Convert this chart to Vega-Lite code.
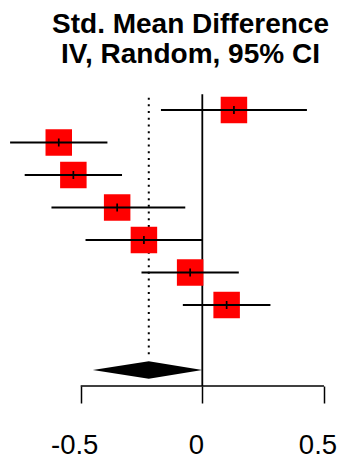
{
  "$schema": "https://vega.github.io/schema/vega-lite/v6.json",
  "width": 337,
  "height": 306,
  "autosize": "none",
  "padding": {"left": 0, "right": 0, "top": 80, "bottom": 69},
  "background": "white",
  "config": {"view": {"stroke": null}, "font": "Liberation Sans"},
  "title": {
    "text": ["Std. Mean Difference", "IV, Random, 95% CI"],
    "fontSize": 28,
    "fontWeight": "bold",
    "font": "Liberation Sans",
    "color": "black",
    "lineHeight": 30,
    "anchor": "middle",
    "dx": 22,
    "offset": 11
  },
  "datasets": {
    "studies": [
      {"row": 1, "est": 0.13, "lo": -0.17, "hi": 0.43},
      {"row": 2, "est": -0.59, "lo": -0.79, "hi": -0.39},
      {"row": 3, "est": -0.53, "lo": -0.73, "hi": -0.33},
      {"row": 4, "est": -0.35, "lo": -0.62, "hi": -0.07},
      {"row": 5, "est": -0.24, "lo": -0.48, "hi": 0.0},
      {"row": 6, "est": -0.05, "lo": -0.25, "hi": 0.15},
      {"row": 7, "est": 0.1, "lo": -0.08, "hi": 0.28}
    ],
    "pooled": [{"row": 9, "est": -0.22, "lo": -0.45, "hi": 0.0}]
  },
  "layer": [
    {
      "data": {"name": "pooled"},
      "mark": {"type": "rule", "color": "black", "strokeWidth": 1.8},
      "encoding": {
        "x": {
          "datum": 0,
          "type": "quantitative",
          "scale": {"domain": [-0.8315, 0.5536], "nice": false, "zero": false},
          "axis": {
            "title": null,
            "values": [-0.5, 0, 0.5],
            "domain": false,
            "grid": false,
            "ticks": true,
            "tickSize": 17,
            "tickWidth": 1.5,
            "tickColor": "black",
            "labelFont": "Liberation Sans",
            "labelFontSize": 27.5,
            "labelColor": "black",
            "labelPadding": 28,
            "labelOffset": -6.5,
            "labelFlush": false,
            "labelOverlap": false,
            "labelBound": false,
            "labelExpr": "datum.value < 0 ? '-' + format(-datum.value, '.1~f') : format(datum.value, '.1~f')"
          }
        },
        "y": {
          "datum": 0.517,
          "type": "quantitative",
          "scale": {"domain": [0.077, 9.492], "reverse": true, "nice": false, "zero": false},
          "axis": null
        },
        "y2": {"datum": 9.49}
      }
    },
    {
      "data": {"name": "pooled"},
      "mark": {"type": "rule", "color": "black", "strokeWidth": 2, "strokeDash": [2, 4.7]},
      "encoding": {
        "x": {"field": "est", "type": "quantitative"},
        "y": {"datum": 0.62, "type": "quantitative"},
        "y2": {"datum": 8.63}
      }
    },
    {
      "data": {"name": "pooled"},
      "mark": {"type": "rule", "color": "black", "strokeWidth": 1.5},
      "encoding": {
        "x": {"datum": -0.5, "type": "quantitative"},
        "x2": {"datum": 0.5},
        "y": {"datum": 9.492, "type": "quantitative"}
      }
    },
    {
      "data": {"name": "studies"},
      "mark": {"type": "point", "shape": "square", "filled": true, "color": "#ff0000", "opacity": 1, "size": 702, "strokeWidth": 0},
      "encoding": {
        "x": {"field": "est", "type": "quantitative"},
        "y": {"field": "row", "type": "quantitative"}
      }
    },
    {
      "data": {"name": "studies"},
      "mark": {"type": "rule", "color": "black", "strokeWidth": 1.8},
      "encoding": {
        "x": {"field": "lo", "type": "quantitative"},
        "x2": {"field": "hi"},
        "y": {"field": "row", "type": "quantitative"}
      }
    },
    {
      "data": {"name": "studies"},
      "mark": {"type": "tick", "orient": "vertical", "color": "black", "size": 8, "thickness": 1.7, "opacity": 1},
      "encoding": {
        "x": {"field": "est", "type": "quantitative"},
        "y": {"field": "row", "type": "quantitative"}
      }
    },
    {
      "data": {"name": "pooled"},
      "transform": [
        {"fold": ["lo", "est", "hi"], "as": ["bound", "x"]},
        {"calculate": "datum.bound === 'est' ? 0.27 : 0", "as": "half"},
        {"calculate": "datum.row - datum.half", "as": "ytop"},
        {"calculate": "datum.row + datum.half", "as": "ybot"}
      ],
      "mark": {"type": "area", "orient": "vertical", "color": "black", "opacity": 1, "interpolate": "linear"},
      "encoding": {
        "x": {"field": "x", "type": "quantitative"},
        "y": {"field": "ytop", "type": "quantitative"},
        "y2": {"field": "ybot"}
      }
    }
  ]
}
